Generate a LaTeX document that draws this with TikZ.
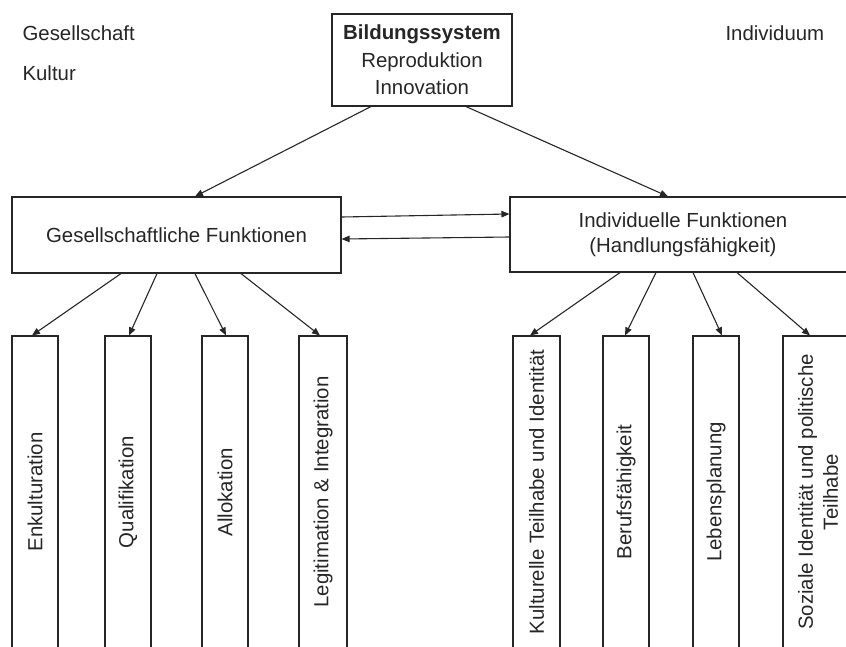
\documentclass[tikz,border=0pt]{standalone}
\usepackage{fontspec}
\setmainfont{Liberation Sans}
\usetikzlibrary{arrows.meta}
\begin{document}
\begin{tikzpicture}[x=1pt,y=-1pt,color=black!85,line width=1.1pt,
font=\fontsize{20.4}{25}\selectfont,
box/.style={draw, align=center, inner sep=0pt},
vbox/.style={draw, rotate=90, minimum width=312pt, minimum height=46pt, inner sep=0pt, align=center},
arr/.style={-{Triangle[length=8pt,width=6.5pt]}},
freetext/.style={anchor=west, inner sep=0pt}]
\useasboundingbox (0,0) rectangle (846,646);
\clip (0,0) rectangle (846,646);
\node (ges) at (22,33) [freetext] {Gesellschaft};
\node (kul) at (22,73) [freetext] {Kultur};
\node (ind) at (725,33) [freetext] {Individuum};
\node (bs) at (422,60) [box, minimum width=180pt, minimum height=92pt,
font=\fontsize{20.4}{27.5}\selectfont] {\textbf{Bildungssystem}\\Reproduktion\\Innovation};
\node (gf) at (176.5,235) [box, minimum width=329pt, minimum height=76pt] {Gesellschaftliche Funktionen};
\node (if) at (683,234.5) [box, minimum width=346pt, minimum height=75pt] {Individuelle Funktionen\\(Handlungsfähigkeit)};
\node (enk) at (35,492) [vbox] {Enkulturation};
\node (qua) at (128,492) [vbox] {Qualifikation};
\node (all) at (225,492) [vbox] {Allokation};
\node (leg) at (323,492) [vbox, minimum height=48pt] {Legitimation \& Integration};
\node (kth) at (536.5,492) [vbox, minimum height=47pt] {Kulturelle Teilhabe und Identität};
\node (bfk) at (626,492) [vbox] {Berufsfähigkeit};
\node (lpl) at (716,492) [vbox] {Lebensplanung};
\node (soz) at (818,492) [vbox, minimum height=70pt] {Soziale Identität und politische\\Teilhabe};
\draw[arr] ([xshift=-51pt]bs.south) -- ([xshift=18.5pt]gf.north);
\draw[arr] ([xshift=44pt]bs.south) -- ([xshift=-15pt]if.north);
\draw[arr] ([yshift=18pt]gf.east) -- ([yshift=20.5pt]if.west);
\draw[arr] ([yshift=-2.5pt]if.west) -- ([yshift=-4pt]gf.east);
\draw[arr] ([xshift=-55.5pt]gf.south) -- ([xshift=-3pt]enk.east);
\draw[arr] ([xshift=-19.5pt]gf.south) -- ([xshift=1pt]qua.east);
\draw[arr] ([xshift=18.5pt]gf.south) -- ([xshift=1pt]all.east);
\draw[arr] ([xshift=64.5pt]gf.south) -- ([xshift=-3pt]leg.east);
\draw[arr] ([xshift=-63pt]if.south) -- ([xshift=-6.5pt]kth.east);
\draw[arr] ([xshift=-27pt]if.south) -- ([xshift=-1pt]bfk.east);
\draw[arr] ([xshift=10pt]if.south) -- ([xshift=6pt]lpl.east);
\draw[arr] ([xshift=54pt]if.south) -- ([xshift=-8pt]soz.east);
\end{tikzpicture}
\end{document}
